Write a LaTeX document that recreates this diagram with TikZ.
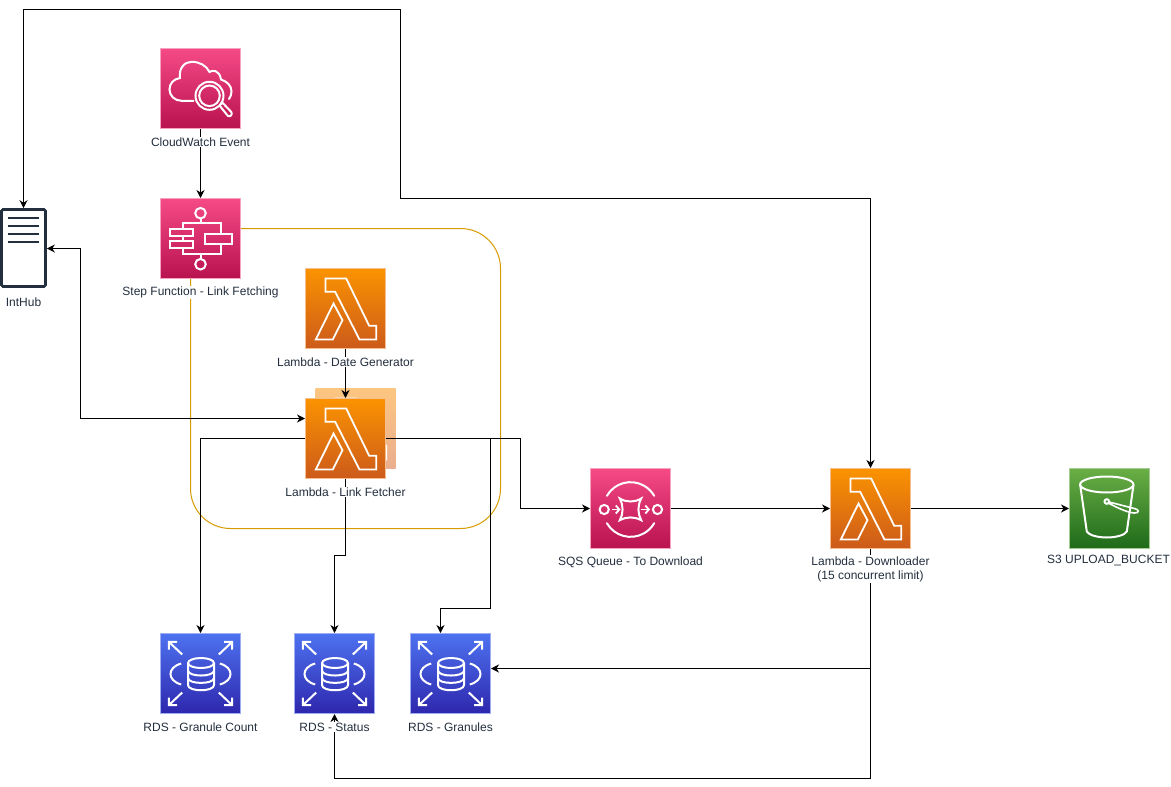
\documentclass[tikz,border=0pt]{standalone}
\usepackage{fontspec}
\setmainfont{Liberation Sans}
\usetikzlibrary{arrows.meta}
\definecolor{ink}{HTML}{232F3E}
\definecolor{gold}{HTML}{D79B00}
\tikzset{
  tip/.tip={Stealth[length=8pt,width=8pt,inset=2.5pt]},
  iconbox/.style={rectangle,minimum size=80pt,inner sep=0pt,line width=1pt,shading angle=0},
  pinkbox/.style={iconbox,draw=pinkb,bottom color=pinkB,top color=pinkT},
  orangebox/.style={iconbox,draw=orangeb,bottom color=orangeB,top color=orangeT},
  ghostbox/.style={iconbox,draw=none,bottom color=ghostB,top color=ghostT},
  bluebox/.style={iconbox,draw=blueb,bottom color=blueB,top color=blueT},
  greenbox/.style={iconbox,draw=greenb,bottom color=greenB,top color=greenT},
  lbl/.style={text=ink,font=\fontsize{12}{14}\selectfont,fill=white,inner sep=1pt,align=center},
  conn/.style={draw=black,line width=1pt,-tip},
  line/.style={draw=black,line width=1pt},
  both/.style={draw=black,line width=1pt,tip-tip},
  glyph/.style={draw=white,line width=2pt,line join=miter},
  lambdaglyph/.pic={
    \draw[glyph,line width=1.8pt] (20,10)--(40.7,10)--(63.7,57.3)--(70.7,57.3)--(70.7,71)--(54,71)--(29.7,23.3)--(20,23.3)--cycle;
    \draw[glyph,line width=1.8pt] (28,35)--(37,51.7)--(27.3,71)--(10.3,71)--cycle;
  },
  stepglyph/.pic={
    \draw[glyph] (40,14.7) circle (5.3) (40,65.7) circle (5.3);
    \draw[glyph] (40,20)--(40,24) (22,30.7)--(22,24)--(60.3,24)--(60.3,35.7)
      (60.3,45.7)--(60.3,55.7)--(22,55.7)--(22,49.3) (22,37)--(22,42.3) (40,55.7)--(40,60.4);
    \draw[glyph] (44.7,35.7) rectangle (71.3,45.7);
    \draw[glyph] (9,30.7) rectangle (32,37) (9,42.3) rectangle (32,49.3);
  },
  cloudglyph/.pic={
    \draw[glyph,line cap=round] (33,52.3)--(21,52.3) .. controls (14,52.3) and (9,47) .. (9,41)
      .. controls (9,35) and (13,30.5) .. (19.5,29.5)
      .. controls (18,20) and (24,13.3) .. (31,13.3)
      .. controls (39,13.3) and (46,17) .. (49,23.5)
      .. controls (52,21) and (59,21.5) .. (60.5,31)
      .. controls (67,33) and (71,37.5) .. (71,43)
      .. controls (71,46) and (70,48.5) .. (68.5,50.5);
    \draw[glyph] (49,47.3) circle (14) (49,47.3) circle (10.3);
    \draw[glyph,line join=round] (59,57) -- (62,54.2) -- (70.8,63.5) .. controls (72.5,66) and (69.5,69) .. (67.3,67.3) -- cycle;
  },
  sqsglyph/.pic={
    \draw[glyph] (13.7,41) circle (4.6) (67,41) circle (4.6);
    \draw[glyph,line cap=round] (16.4,27.3) arc[start angle=-150,end angle=-30,radius=27.3];
    \draw[glyph,line cap=round] (16.4,54.7) arc[start angle=150,end angle=30,radius=27.3];
    \draw[glyph,line join=miter] (29.3,30) .. controls (36,34) and (44,34) .. (50.7,30)
      .. controls (47,37) and (47,45) .. (50.7,51.7)
      .. controls (44,48) and (36,48) .. (29.3,51.7)
      .. controls (33,45) and (33,37) .. (29.3,30) -- cycle;
    \draw[glyph,line width=1.8pt,-{Straight Barb[length=3.5pt,width=8pt]}] (21.5,41)--(30,41);
    \draw[glyph,line width=1.8pt,-{Straight Barb[length=3.5pt,width=8pt]}] (50,41)--(59.5,41);
  },
  bucketglyph/.pic={
    \draw[glyph] (37.3,16) ellipse[x radius=26.7,y radius=8];
    \draw[glyph] (10.7,16.5)--(17.3,63) .. controls (19,66.5) and (28,69) .. (37.3,69)
       .. controls (46.5,69) and (55.5,66.5) .. (57.3,63)--(64,16.5);
    \draw[glyph] (37.3,33) circle (2.3);
    \draw[glyph,line width=1.6pt] (39.5,33.5) -- (66,40.3) .. controls (69.5,41.3) and (70,44.5) .. (65,44.5)
      .. controls (60,44.5) and (50,40.5) .. (39.3,34.8);
  },
  dbglyph/.pic={
    \draw[glyph] (21.7,21)--(8.3,8.3) (8.3,16)--(8.3,8.3)--(16.5,8.3);
    \draw[glyph] (58.3,21)--(71.7,8.3) (63.5,8.3)--(71.7,8.3)--(71.7,16);
    \draw[glyph] (21.7,59)--(8.3,71.7) (8.3,64)--(8.3,71.7)--(16.5,71.7);
    \draw[glyph] (58.3,59)--(71.7,71.7) (63.5,71.7)--(71.7,71.7)--(71.7,64);
    \draw[glyph] (20.7,30) .. controls (6.4,34) and (6.4,47) .. (20.7,51);
    \draw[glyph] (59.3,30) .. controls (73.6,34) and (73.6,47) .. (59.3,51);
    \draw[glyph] (40.5,29.5) ellipse[x radius=13,y radius=5];
    \draw[glyph] (27.5,29.5)--(27.5,51.5) .. controls (27.5,58.5) and (53.5,58.5) .. (53.5,51.5)--(53.5,29.5);
    \draw[glyph] (27.5,37) .. controls (27.5,43.7) and (53.5,43.7) .. (53.5,37);
    \draw[glyph] (27.5,44.5) .. controls (27.5,51) and (53.5,51) .. (53.5,44.5);
  },
}
\definecolor{pinkT}{HTML}{F54A86}\definecolor{pinkB}{HTML}{B8124F}\definecolor{pinkb}{HTML}{F6A3C0}
\definecolor{orangeT}{HTML}{FB9300}\definecolor{orangeB}{HTML}{CC5A1B}\definecolor{orangeb}{HTML}{F6BE8E}
\definecolor{ghostT}{HTML}{FCC680}\definecolor{ghostB}{HTML}{EAAE8E}
\definecolor{blueT}{HTML}{4D72F0}\definecolor{blueB}{HTML}{2E27AD}\definecolor{blueb}{HTML}{9EAEF0}
\definecolor{greenT}{HTML}{6AAE45}\definecolor{greenB}{HTML}{1E6A1A}\definecolor{greenb}{HTML}{A5CC95}
\begin{document}
\begin{tikzpicture}[x=1pt,y=-1pt]
\useasboundingbox (0,0) rectangle (1171,787);
\fill[white] (0,0) rectangle (1171,787);
% group frame
\node[draw=gold,line width=1pt,rectangle,rounded corners=40pt,minimum width=310pt,minimum height=300pt,inner sep=0pt,outer sep=0pt] (frame) at (345.5,378.5) {};
% icons
\node[pinkbox] (cw) at (200.5,88.5) {};
\pic at (160.5,48.5) {cloudglyph};
\node[pinkbox] (step) at (200.5,238.5) {};
\pic at (160.5,198.5) {stepglyph};
\node[orangebox] (date) at (345.5,308.5) {};
\pic at (305.5,268.5) {lambdaglyph};
\node[ghostbox] (ghost) at (355.5,428.5) {};
\pic at (315.5,388.5) {lambdaglyph};
\node[orangebox] (fetch) at (345.5,438.5) {};
\pic at (305.5,398.5) {lambdaglyph};
\node[pinkbox] (sqs) at (630.5,508.5) {};
\pic at (590.5,468.5) {sqsglyph};
\node[orangebox] (down) at (870.5,508.5) {};
\pic at (830.5,468.5) {lambdaglyph};
\node[greenbox] (s3) at (1109.5,508.5) {};
\pic at (1069.5,468.5) {bucketglyph};
\node[bluebox] (count) at (200.5,673.5) {};
\pic at (160.5,633.5) {dbglyph};
\node[bluebox] (status) at (334.5,673.5) {};
\pic at (294.5,633.5) {dbglyph};
\node[bluebox] (gran) at (450.5,673.5) {};
\pic at (410.5,633.5) {dbglyph};
% IntHub server
\node[rectangle,draw=ink,line width=2.6pt,rounded corners=1.5pt,minimum width=44pt,minimum height=77pt,inner sep=0pt] (hub) at (23.5,248) {};
\foreach \yy in {218,226,234,242}{\draw[ink,line width=2.4pt] (8.3,\yy)--(38.5,\yy);}
% joints
\coordinate (jhub) at (80.5,248.5);
\coordinate (jfetch) at (80.5,418.5);
\coordinate (jtopA) at (23.5,9.5);
\coordinate (jtopB) at (400.5,9.5);
\coordinate (jtopC) at (400.5,198.5);
\coordinate (jtopD) at (870.5,198.5);
\coordinate (jgranA) at (490.5,608.5);
\coordinate (jgranB) at (440.5,608.5);
\coordinate (jstatA) at (345.5,555.5);
\coordinate (jstatB) at (334.5,555.5);
\coordinate (jsqs) at (520.5,438.5);
\coordinate (jdl) at (870.5,668.5);
\coordinate (jdb) at (870.5,778.5);
\coordinate (jdc) at (334.5,778.5);
% connectors
\draw[conn] (cw.south) -- (step.north);
\draw[conn] (date.south) -- (fetch.north);
\draw[both] (hub.east |- jhub) -- (jhub) -- (jfetch) -- (fetch.west |- jfetch);
\draw[both] (jtopA |- hub.north) -- (jtopA) -- (jtopB) -- (jtopC) -- (jtopD) -- (jtopD |- down.north);
\draw[conn] (fetch.west) -| (count.north);
\draw[conn] (fetch.south) -- (jstatA) -- (jstatB) -- (status.north);
\draw[conn] (fetch.east) -- (jgranA |- fetch.east) -- (jgranA) -- (jgranB) -- (jgranB |- gran.north);
\draw[conn] (fetch.east) -- (jsqs) -- (jsqs |- sqs.west) -- (sqs.west);
\draw[conn] (sqs.east) -- (down.west);
\draw[conn] (down.east) -- (s3.west);
\draw[line] (down.south) -- (jdl);
\draw[conn] (jdl) -- (gran.east |- jdl);
\draw[conn] (jdl) -- (jdb) -- (jdc) -- (status.south);
% labels
\node[lbl] (lcw) at (200.5,142) {CloudWatch Event};
\node[lbl] (lstep) at (200.5,292.5) {Step Function - Link Fetching};
\node[lbl] (ldate) at (345.5,362) {Lambda - Date Generator};
\node[lbl] (lfetch) at (345.5,492) {Lambda - Link Fetcher};
\node[lbl] (lsqs) at (630.5,562) {SQS Queue - To Download};
\node[lbl] (ldown) at (870.5,569) {Lambda - Downloader\\(15 concurrent limit)};
\node[lbl] (ls3) at (1108.5,560.5) {S3 UPLOAD\_BUCKET};
\node[lbl] (lcount) at (200.5,727) {RDS - Granule Count};
\node[lbl] (lstatus) at (334.5,727) {RDS - Status};
\node[lbl] (lgran) at (450.5,727) {RDS - Granules};
\node[lbl] (lhub) at (23.5,302) {IntHub};
\end{tikzpicture}
\end{document}
